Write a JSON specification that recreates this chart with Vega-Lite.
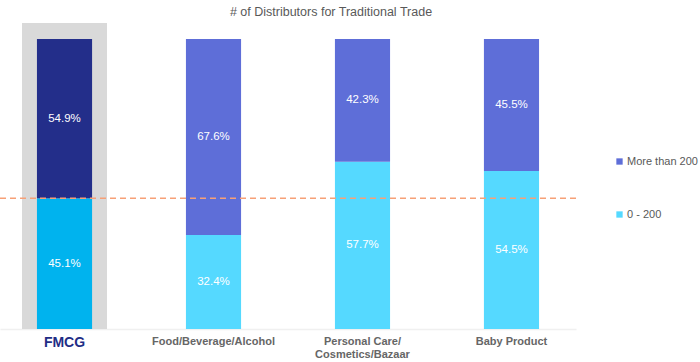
{
  "$schema": "https://vega.github.io/schema/vega-lite/v6.json",
  "autosize": "none",
  "width": 576,
  "height": 290,
  "padding": {"top": 39, "left": 0, "right": 124, "bottom": 33},
  "background": "white",
  "config": {
    "font": "Liberation Sans",
    "view": {"stroke": null}
  },
  "title": {
    "text": "# of Distributors for Traditional Trade",
    "fontSize": 12.5,
    "fontWeight": "normal",
    "color": "#595959",
    "anchor": "middle",
    "dx": 43,
    "offset": 5
  },
  "data": {
    "values": [
      {"kind": "frame", "category": "FMCG", "top": 1.055},
      {"kind": "segment", "category": "FMCG", "segment": "0 - 200", "order": 1, "share": 0.451, "label": "45.1%"},
      {"kind": "segment", "category": "FMCG", "segment": "More than 200", "order": 2, "share": 0.549, "label": "54.9%"},
      {"kind": "segment", "category": "Food/Beverage/Alcohol", "segment": "0 - 200", "order": 1, "share": 0.324, "label": "32.4%"},
      {"kind": "segment", "category": "Food/Beverage/Alcohol", "segment": "More than 200", "order": 2, "share": 0.676, "label": "67.6%"},
      {"kind": "segment", "category": "Personal Care/Cosmetics/Bazaar", "segment": "0 - 200", "order": 1, "share": 0.577, "label": "57.7%"},
      {"kind": "segment", "category": "Personal Care/Cosmetics/Bazaar", "segment": "More than 200", "order": 2, "share": 0.423, "label": "42.3%"},
      {"kind": "segment", "category": "Baby Product", "segment": "0 - 200", "order": 1, "share": 0.545, "label": "54.5%"},
      {"kind": "segment", "category": "Baby Product", "segment": "More than 200", "order": 2, "share": 0.455, "label": "45.5%"},
      {"kind": "reference", "level": 0.451}
    ]
  },
  "layer": [
    {
      "transform": [{"filter": "datum.kind === 'frame'"}],
      "mark": {"type": "bar", "width": 85, "color": "#d9d9d9"},
      "encoding": {
        "x": {
          "field": "category",
          "type": "nominal",
          "scale": {
            "domain": ["FMCG", "Food/Beverage/Alcohol", "Personal Care/Cosmetics/Bazaar", "Baby Product"],
            "paddingInner": 0.63,
            "paddingOuter": 0.248
          },
          "axis": {
            "title": null,
            "ticks": false,
            "domainColor": "#f0f0f0",
            "domainWidth": 1.5,
            "labelAngle": 0,
            "labelPadding": 6,
            "labelFontWeight": "bold",
            "labelFontSize": {"condition": {"test": "datum.value === 'FMCG'", "value": 14}, "value": 11},
            "labelColor": {"condition": {"test": "datum.value === 'FMCG'", "value": "#1f2d86"}, "value": "#666666"},
            "labelExpr": "datum.value === 'Personal Care/Cosmetics/Bazaar' ? ['Personal Care/', 'Cosmetics/Bazaar'] : datum.value",
            "labelLineHeight": 13
          }
        },
        "y": {"field": "top", "type": "quantitative", "scale": {"domain": [0, 1], "nice": false}, "axis": null}
      }
    },
    {
      "transform": [{"filter": "datum.kind === 'segment' && datum.category !== 'FMCG'"}],
      "mark": {"type": "bar"},
      "encoding": {
        "x": {"field": "category", "type": "nominal"},
        "y": {"field": "share", "type": "quantitative", "stack": "zero", "axis": null},
        "order": {"field": "order", "type": "quantitative"},
        "color": {
          "field": "segment",
          "type": "nominal",
          "scale": {"domain": ["More than 200", "0 - 200"], "range": ["#5e6ed8", "#55d9ff"]},
          "legend": {
            "title": null,
            "orient": "none",
            "legendX": 614,
            "legendY": 117,
            "symbolType": "square",
            "symbolSize": 40,
            "symbolStrokeWidth": 0,
            "labelFontSize": 11,
            "labelColor": "#595959",
            "labelOffset": 2,
            "rowPadding": 41
          }
        }
      }
    },
    {
      "transform": [{"filter": "datum.kind === 'segment' && datum.category === 'FMCG'"}],
      "mark": {"type": "bar"},
      "encoding": {
        "x": {"field": "category", "type": "nominal"},
        "y": {"field": "share", "type": "quantitative", "stack": "zero", "axis": null},
        "order": {"field": "order", "type": "quantitative"},
        "color": {"condition": {"test": "datum.segment === 'More than 200'", "value": "#232e8a"}, "value": "#00b3ee"}
      }
    },
    {
      "transform": [{"filter": "datum.kind === 'segment'"}],
      "mark": {"type": "text", "color": "white", "fontSize": 11.5},
      "encoding": {
        "x": {"field": "category", "type": "nominal"},
        "y": {"field": "share", "type": "quantitative", "stack": "zero", "bandPosition": 0.5, "axis": null},
        "order": {"field": "order", "type": "quantitative"},
        "text": {"field": "label"}
      }
    },
    {
      "transform": [{"filter": "datum.kind === 'reference'"}],
      "mark": {"type": "rule", "color": "#f7a077", "strokeWidth": 1.5, "strokeDash": [6, 4]},
      "encoding": {
        "y": {"field": "level", "type": "quantitative", "axis": null}
      }
    }
  ]
}
